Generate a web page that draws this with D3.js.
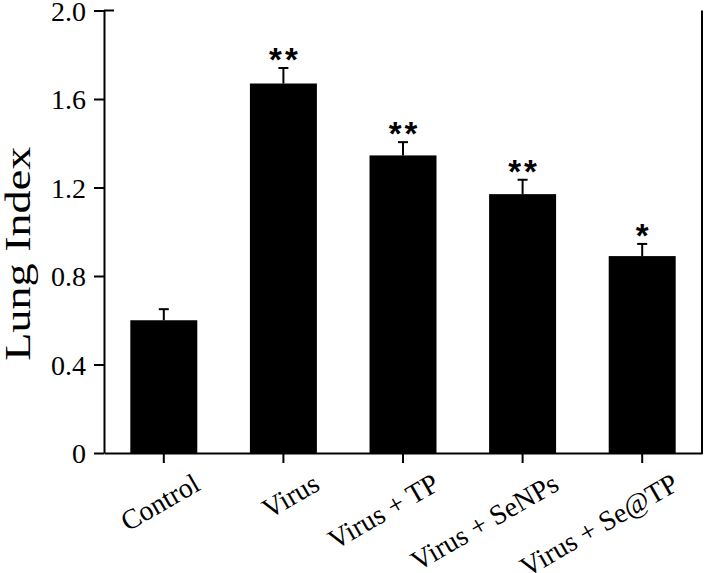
<!DOCTYPE html>
<html><head><meta charset="utf-8">
<script src="https://cdn.jsdelivr.net/npm/d3@7"></script>
<style>body{margin:0;background:#fff}</style>
</head><body>
<svg id="chart" width="704" height="573"></svg>
<script>
const categories = ["Control", "Virus", "Virus + TP", "Virus + SeNPs", "Virus + Se@TP"];
const values = [0.60, 1.67, 1.345, 1.17, 0.89];
const errors = [0.05, 0.07, 0.06, 0.065, 0.055];
const significance = ["", "**", "**", "**", "*"];
const yTicks = [0, 0.4, 0.8, 1.2, 1.6, 2.0];
const yTickLabels = ["0", "0.4", "0.8", "1.2", "1.6", "2.0"];
const yLabel = "Lung Index";

(function () {
const svg = d3.select("#chart");
const mLeft = 104, mRight = 702, mTop = 10.5, mBottom = 453;
const x = d3.scaleBand().domain(categories).range([mLeft, mRight]).paddingInner(0.44).paddingOuter(0.22);
const y = d3.scaleLinear().domain([0, 2.0]).range([mBottom, mTop]);
const serif = "\"Liberation Serif\", \"Times New Roman\", serif";

// bars
svg.selectAll("rect.bar").data(categories).enter().append("rect")
  .attr("x", d => x(d)).attr("width", x.bandwidth())
  .attr("y", (d, i) => y(values[i])).attr("height", (d, i) => y(0) - y(values[i]))
  .attr("fill", "#000");

// error bars
const eg = svg.append("g").attr("stroke", "#000").attr("stroke-width", 2);
categories.forEach((c, i) => {
  const cx = x(c) + x.bandwidth() / 2;
  eg.append("line").attr("x1", cx).attr("x2", cx).attr("y1", y(values[i])).attr("y2", y(values[i] + errors[i]));
  eg.append("line").attr("x1", cx - 5).attr("x2", cx + 5).attr("y1", y(values[i] + errors[i])).attr("y2", y(values[i] + errors[i]));
});

// significance stars
svg.selectAll("text.sig").data(categories).enter().append("text")
  .attr("x", d => x(d) + x.bandwidth() / 2 + 1.5)
  .attr("y", (d, i) => y(values[i] + errors[i]) + 3)
  .attr("text-anchor", "middle")
  .attr("font-family", "\"Liberation Sans\", Arial, sans-serif").attr("font-weight", "bold").attr("font-size", 33)
  .attr("letter-spacing", 3)
  .text((d, i) => significance[i]);

// y axis
const yAxis = d3.axisLeft(y).tickValues(yTicks).tickFormat((d, i) => yTickLabels[i]).tickSize(10).tickSizeOuter(0).tickPadding(8);
const gy = svg.append("g").attr("transform", `translate(${mLeft},0)`).call(yAxis);
gy.attr("font-family", serif).attr("font-size", 28);
gy.select(".domain").attr("stroke-width", 2);
gy.selectAll(".tick line").attr("stroke-width", 2);
gy.selectAll(".tick text").attr("dy", "0.34em");

// x axis
const xAxis = d3.axisBottom(x).tickSize(10).tickSizeOuter(0).tickFormat("");
const gx = svg.append("g").attr("transform", `translate(0,${mBottom})`).call(xAxis);
gx.select(".domain").attr("stroke-width", 2);
gx.selectAll(".tick line").attr("stroke-width", 2);

// x labels rotated
svg.selectAll("text.xl").data(categories).enter().append("text")
  .attr("transform", d => `translate(${x(d) + x.bandwidth() / 2 + 38},${mBottom + 36}) rotate(-30)`)
  .attr("text-anchor", "end")
  .attr("font-family", serif).attr("font-size", 28)
  .text(d => d);

// right frame and top inner tick
svg.append("line").attr("x1", mRight).attr("x2", mRight).attr("y1", y(2.0)).attr("y2", mBottom + 1)
  .attr("stroke", "#000").attr("stroke-width", 2);
svg.append("line").attr("x1", mLeft).attr("x2", mLeft + 10).attr("y1", y(2.0)).attr("y2", y(2.0))
  .attr("stroke", "#000").attr("stroke-width", 2);

// y label
svg.append("text")
  .attr("transform", `translate(30,${(mTop + mBottom) / 2 + 22}) rotate(-90)`)
  .attr("text-anchor", "middle")
  .attr("textLength", 214).attr("lengthAdjust", "spacingAndGlyphs")
  .attr("font-family", serif).attr("font-size", 36)
  .text(yLabel);
})();
</script>
</body></html>
